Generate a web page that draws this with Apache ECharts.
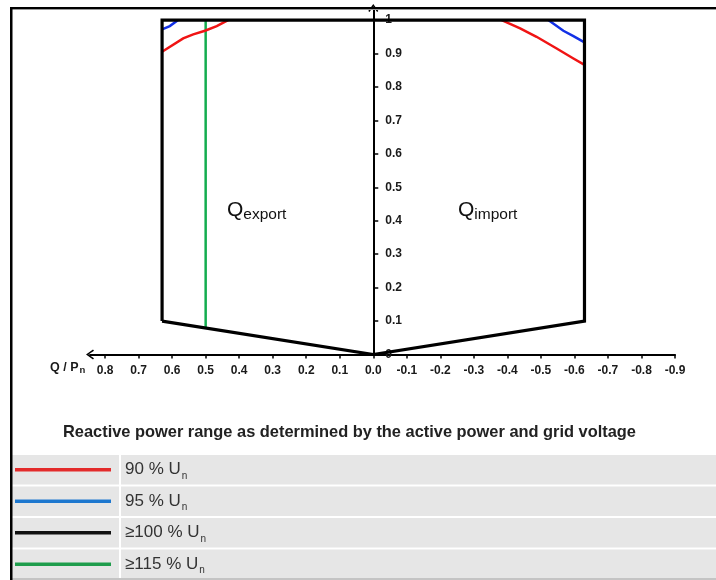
<!DOCTYPE html>
<html>
<head>
<meta charset="utf-8">
<script src="https://cdn.jsdelivr.net/npm/echarts@6/dist/echarts.min.js"></script>
<style>
html,body{margin:0;padding:0;background:#fff;}
#chart{width:716px;height:580px;}
</style>
</head>
<body>
<div id="chart"></div>
<script>
// ---- data ----
const xTickValues = [0.8, 0.7, 0.6, 0.5, 0.4, 0.3, 0.2, 0.1, 0, -0.1, -0.2, -0.3, -0.4, -0.5, -0.6, -0.7, -0.8, -0.9];
const yTickValues = [0, 0.1, 0.2, 0.3, 0.4, 0.5, 0.6, 0.7, 0.8, 0.9, 1];

// boundary for >=100 % Un (Q/Pn, P/Pn)
const boundaryQ = [0.63, 0.63, -0.63, -0.63, 0, 0.63];
const boundaryP = [0.1, 1.0, 1.0, 0.1, 0, 0.1];

// 90 % Un
const red90LeftQ = [0.63, 0.567, 0.537, 0.502, 0.467, 0.433];
const red90LeftP = [0.905, 0.945, 0.957, 0.968, 0.982, 1.0];
const red90RightQ = [-0.383, -0.438, -0.487, -0.547, -0.597, -0.63];
const red90RightP = [1.0, 0.975, 0.95, 0.915, 0.885, 0.866];

// 95 % Un
const blue95LeftQ = [0.63, 0.607, 0.582];
const blue95LeftP = [0.972, 0.982, 1.0];
const blue95RightQ = [-0.522, -0.567, -0.597, -0.63];
const blue95RightP = [1.0, 0.968, 0.952, 0.933];

// >=115 % Un
const green115Q = [0.5, 0.5];
const green115P = [1.0, 0.079];

const legendNames = ['90 % U', '95 % U', '\u2265100 % U', '\u2265115 % U'];
const legendSub = 'n';
const legendColors = ['#e32b2b', '#1e78cf', '#111111', '#1f9d4c'];
const titleText = 'Reactive power range as determined by the active power and grid voltage';

// ---- helpers ----
function pairs(qs, ps) { return qs.map((q, i) => [q, ps[i]]); }
const FONT = 'Liberation Sans, Arial, Helvetica, sans-serif';
const X_MIN = -0.9, X_MAX = 0.845;
const ARROW = 'path://M5,0 L10,7 L8.8,8 L5,2.4 L1.2,8 L0,7 Z';

const chart = echarts.init(document.getElementById('chart'), null, {renderer: 'canvas'});

function lineSeries(data, color, width, z) {
  return {
    type: 'line', data: data, showSymbol: false, symbol: 'none', silent: true,
    lineStyle: {color: color, width: width, cap: 'butt', join: 'miter'},
    z: z, animation: false
  };
}

// legend graphics
const legendGraphics = [];
const rowTops = [455, 486.5, 518, 549.5];
const rowH = 29.5;
rowTops.forEach((top, i) => {
  legendGraphics.push({type: 'rect', shape: {x: 12, y: top, width: 107, height: rowH}, style: {fill: '#e6e6e6'}, silent: true});
  legendGraphics.push({type: 'rect', shape: {x: 121, y: top, width: 595, height: rowH}, style: {fill: '#e6e6e6'}, silent: true});
  const cy = top + rowH / 2;
  legendGraphics.push({type: 'line', shape: {x1: 15, y1: cy, x2: 111, y2: cy}, style: {stroke: legendColors[i], lineWidth: 3.5}, silent: true});
  legendGraphics.push({
    type: 'text', x: 125, y: cy, silent: true,
    style: {
      text: '{a|' + legendNames[i] + '}{b|' + legendSub + '}',
      verticalAlign: 'middle',
      rich: {
        a: {fontSize: 17, fontFamily: FONT, fill: '#333333', lineHeight: 20},
        b: {fontSize: 10, fontFamily: FONT, fill: '#333333', padding: [12, 0, 0, 1], lineHeight: 10}
      }
    }
  });
});
legendGraphics.push({type: 'rect', shape: {x: 12, y: 578, width: 704, height: 2}, style: {fill: '#c4c4c4'}, silent: true});

const option = {
  animation: false,
  backgroundColor: '#ffffff',
  grid: {left: 90, right: 41, top: 8, bottom: 225.5, containLabel: false, outerBoundsMode: 'none'},
  xAxis: {
    type: 'value', inverse: true, min: X_MIN, max: X_MAX,
    splitLine: {show: false},
    axisLine: {onZero: true, lineStyle: {color: '#000', width: 2}, symbol: [ARROW, 'none'], symbolSize: [10, 8]},
    axisTick: {show: true, customValues: xTickValues, length: 4, lineStyle: {color: '#000', width: 1.5}},
    axisLabel: {customValues: xTickValues, formatter: v => v.toFixed(1), fontSize: 12, fontWeight: 'bold', color: '#1a1a1a', fontFamily: FONT, margin: 10}
  },
  yAxis: {
    type: 'value', min: 0, max: 1.036, position: 'left', offset: 0,
    splitLine: {show: false},
    axisLine: {onZero: false, lineStyle: {color: '#000', width: 2}, symbol: ['none', ARROW], symbolSize: [10, 8]},
    axisTick: {show: true, inside: true, customValues: yTickValues, length: 5, lineStyle: {color: '#000', width: 1.5}},
    axisLabel: {inside: true, customValues: yTickValues, formatter: v => (v === 0 ? '0' : (v === 1 ? '1' : v.toFixed(1))), fontSize: 12, fontWeight: 'bold', color: '#1a1a1a', fontFamily: FONT, margin: 12}
  },
  series: [
    lineSeries(pairs(green115Q, green115P), '#13ad4f', 2.5, 3),
    lineSeries(pairs(red90LeftQ, red90LeftP), '#f01414', 2.5, 3),
    lineSeries(pairs(red90RightQ, red90RightP), '#f01414', 2.5, 3),
    lineSeries(pairs(blue95LeftQ, blue95LeftP), '#1230e6', 2.5, 3),
    lineSeries(pairs(blue95RightQ, blue95RightP), '#1230e6', 2.5, 3),
    lineSeries(pairs(boundaryQ, boundaryP), '#000000', 3.2, 4)
  ],
  graphic: [
    {type: 'rect', shape: {x: 10, y: 7, width: 706, height: 2}, style: {fill: '#000'}, silent: true, z: 10},
    {type: 'rect', shape: {x: 10, y: 9, width: 706, height: 1}, style: {fill: '#9a9a9a'}, silent: true, z: 10},
    {type: 'rect', shape: {x: 10, y: 7, width: 2.5, height: 573}, style: {fill: '#000'}, silent: true, z: 10},
    {
      type: 'text', x: 50, y: 368, silent: true,
      style: {
        text: '{a|Q / P}{b|n}', verticalAlign: 'middle',
        rich: {
          a: {fontSize: 12.5, fontWeight: 'bold', fontFamily: FONT, fill: '#1a1a1a', lineHeight: 14},
          b: {fontSize: 9.5, fontWeight: 'bold', fontFamily: FONT, fill: '#1a1a1a', padding: [5, 0, 0, 1], lineHeight: 9}
        }
      }
    },
    {
      type: 'text', x: 227, y: 210, silent: true,
      style: {
        text: '{q|Q}{s|export}', verticalAlign: 'middle',
        rich: {
          q: {fontSize: 21, fontFamily: FONT, fill: '#111', lineHeight: 24},
          s: {fontSize: 15.5, fontFamily: FONT, fill: '#111', padding: [9, 0, 0, 0], lineHeight: 16}
        }
      }
    },
    {
      type: 'text', x: 458, y: 210, silent: true,
      style: {
        text: '{q|Q}{s|import}', verticalAlign: 'middle',
        rich: {
          q: {fontSize: 21, fontFamily: FONT, fill: '#111', lineHeight: 24},
          s: {fontSize: 15.5, fontFamily: FONT, fill: '#111', padding: [9, 0, 0, 0], lineHeight: 16}
        }
      }
    },
    {
      type: 'text', x: 349.5, y: 432, silent: true,
      style: {text: titleText, align: 'center', verticalAlign: 'middle', fontSize: 16.4, fontWeight: 'bold', fontFamily: FONT, fill: '#222'}
    }
  ].concat(legendGraphics)
};
chart.setOption(option);

// place the P axis on Q = 0 using the library's own x scale
const zeroPx = chart.convertToPixel({xAxisIndex: 0}, 0);
const leftPx = chart.convertToPixel({xAxisIndex: 0}, X_MAX);
chart.setOption({yAxis: {offset: -(zeroPx - leftPx)}});
</script>
</body>
</html>
